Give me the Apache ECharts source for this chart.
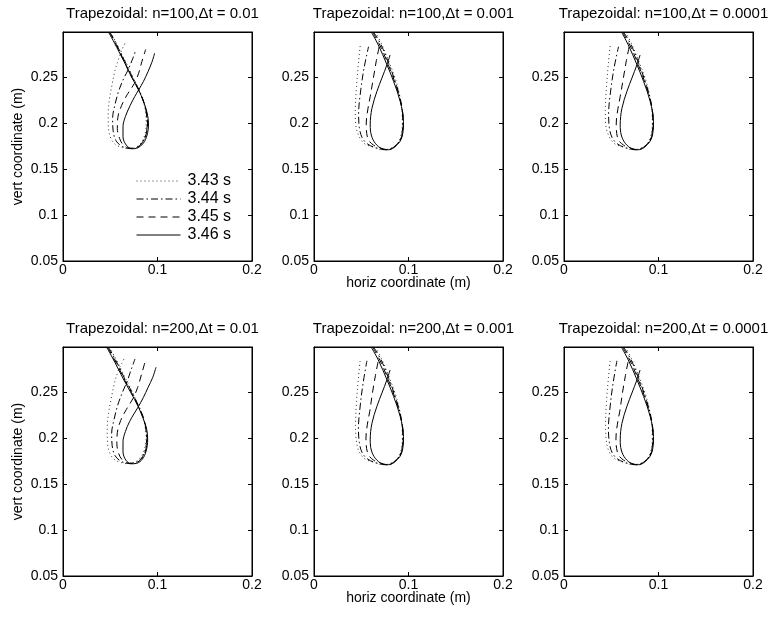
<!DOCTYPE html>
<html><head><meta charset="utf-8">
<script src="https://cdn.jsdelivr.net/npm/echarts@6/dist/echarts.min.js"></script>
<style>html,body{margin:0;padding:0;background:#fff}#c{width:769px;height:620px}</style>
</head><body><div id="c"></div>
<script>
// ---- tick labels / axis ranges ----
const xTicks = [0, 0.1, 0.2];
const yTicks = [0.05, 0.1, 0.15, 0.2, 0.25];
const yMax = 0.299;

// ---- curve names (legend) ----
const curveNames = ['3.43 s', '3.44 s', '3.45 s', '3.46 s'];

// ---- panel titles ----
const titles = [
  'Trapezoidal: n=100,\u0394t = 0.01', 'Trapezoidal: n=100,\u0394t = 0.001', 'Trapezoidal: n=100,\u0394t = 0.0001',
  'Trapezoidal: n=200,\u0394t = 0.01', 'Trapezoidal: n=200,\u0394t = 0.001', 'Trapezoidal: n=200,\u0394t = 0.0001'
];

// ---- data: [horiz, vert] (m) ----
// Panel 1: n=100, dt=0.01
const p1_343 = [[0.050,0.299],[0.056,0.288],[0.061,0.2775],[0.067,0.265],[0.073,0.252],[0.080,0.237],[0.0845,0.225],[0.0875,0.212],[0.088,0.200],[0.087,0.189],[0.083,0.179],[0.077,0.1735],[0.070,0.172],[0.062,0.1735],[0.055,0.177],[0.050,0.185],[0.048,0.197],[0.0478,0.210],[0.049,0.225],[0.052,0.242],[0.055,0.257],[0.059,0.270],[0.062,0.279],[0.0656,0.2866]];
const p1_344 = [[0.0495,0.299],[0.0555,0.288],[0.0605,0.277],[0.0665,0.265],[0.0725,0.252],[0.080,0.237],[0.0848,0.225],[0.088,0.212],[0.089,0.200],[0.088,0.188],[0.084,0.179],[0.078,0.1735],[0.070,0.1725],[0.062,0.175],[0.056,0.181],[0.053,0.192],[0.0525,0.205],[0.055,0.220],[0.059,0.235],[0.064,0.248],[0.069,0.258],[0.073,0.268],[0.077,0.279]];
const p1_345 = [[0.049,0.299],[0.055,0.288],[0.0605,0.2765],[0.066,0.2645],[0.072,0.2515],[0.080,0.236],[0.085,0.224],[0.0885,0.211],[0.0895,0.199],[0.088,0.188],[0.084,0.1785],[0.078,0.1735],[0.071,0.1725],[0.064,0.176],[0.060,0.183],[0.0575,0.194],[0.058,0.206],[0.062,0.219],[0.068,0.231],[0.0755,0.243],[0.080,0.254],[0.0835,0.267],[0.0875,0.280]];
const p1_346 = [[0.048,0.299],[0.054,0.288],[0.060,0.276],[0.066,0.264],[0.072,0.251],[0.080,0.236],[0.085,0.224],[0.089,0.211],[0.0905,0.199],[0.089,0.187],[0.085,0.178],[0.079,0.173],[0.073,0.172],[0.067,0.176],[0.0635,0.185],[0.0635,0.196],[0.066,0.207],[0.071,0.219],[0.076,0.229],[0.080,0.236],[0.085,0.245],[0.090,0.256],[0.094,0.266],[0.097,0.276]];
// Panel 2: n=100, dt=0.001
const p2_343 = [[0.065,0.299],[0.072,0.285],[0.080,0.265],[0.087,0.245],[0.092,0.222],[0.0935,0.200],[0.091,0.183],[0.084,0.174],[0.073,0.171],[0.062,0.174],[0.053,0.178],[0.047,0.187],[0.044,0.200],[0.0437,0.214],[0.045,0.240],[0.047,0.265],[0.049,0.285]];
const p2_344 = [[0.063,0.299],[0.071,0.285],[0.079,0.265],[0.086,0.245],[0.092,0.223],[0.094,0.200],[0.092,0.184],[0.086,0.175],[0.076,0.171],[0.066,0.173],[0.057,0.177],[0.051,0.184],[0.048,0.195],[0.0472,0.210],[0.0495,0.236],[0.053,0.260],[0.0577,0.283]];
const p2_345 = [[0.062,0.299],[0.070,0.284],[0.078,0.265],[0.085,0.246],[0.0915,0.224],[0.0945,0.202],[0.093,0.186],[0.088,0.177],[0.078,0.171],[0.070,0.173],[0.063,0.176],[0.057,0.183],[0.0553,0.200],[0.057,0.215],[0.0595,0.229],[0.063,0.250],[0.066,0.268],[0.069,0.283]];
const p2_346 = [[0.0606,0.299],[0.068,0.285],[0.0772,0.2634],[0.0842,0.2453],[0.0912,0.2236],[0.0947,0.2018],[0.0937,0.1874],[0.0895,0.178],[0.0789,0.171],[0.0719,0.172],[0.0648,0.178],[0.0606,0.187],[0.0595,0.198],[0.0613,0.216],[0.0666,0.2345],[0.0719,0.249],[0.0772,0.2634],[0.0805,0.274]];
// Panel 3: n=100, dt=0.0001
const p3_343 = [[0.065,0.299],[0.072,0.285],[0.080,0.265],[0.087,0.245],[0.092,0.222],[0.0935,0.200],[0.091,0.183],[0.084,0.174],[0.073,0.171],[0.062,0.174],[0.053,0.178],[0.047,0.187],[0.044,0.200],[0.0437,0.214],[0.045,0.240],[0.047,0.265],[0.049,0.285]];
const p3_344 = [[0.063,0.299],[0.071,0.285],[0.079,0.265],[0.086,0.245],[0.092,0.223],[0.094,0.200],[0.092,0.184],[0.086,0.175],[0.076,0.171],[0.066,0.173],[0.057,0.177],[0.051,0.184],[0.048,0.195],[0.0472,0.210],[0.0495,0.236],[0.053,0.260],[0.0577,0.283]];
const p3_345 = [[0.062,0.299],[0.070,0.284],[0.078,0.265],[0.085,0.246],[0.0915,0.224],[0.0945,0.202],[0.093,0.186],[0.088,0.177],[0.078,0.171],[0.070,0.173],[0.063,0.176],[0.057,0.183],[0.0553,0.200],[0.057,0.215],[0.0595,0.229],[0.063,0.250],[0.066,0.268],[0.069,0.283]];
const p3_346 = [[0.0608,0.299],[0.068,0.285],[0.0772,0.2634],[0.0842,0.2453],[0.0912,0.2236],[0.0947,0.2018],[0.0937,0.1874],[0.0895,0.178],[0.0789,0.171],[0.0719,0.172],[0.0648,0.178],[0.0606,0.187],[0.0595,0.198],[0.0613,0.216],[0.0666,0.2345],[0.0719,0.249],[0.0772,0.2634],[0.0805,0.274]];
// Panel 4: n=200, dt=0.01
const p4_343 = [[0.049,0.299],[0.055,0.288],[0.060,0.278],[0.066,0.265],[0.0725,0.252],[0.079,0.237],[0.084,0.225],[0.087,0.212],[0.088,0.200],[0.0865,0.189],[0.0825,0.1795],[0.0765,0.174],[0.069,0.172],[0.061,0.1735],[0.054,0.177],[0.049,0.185],[0.047,0.197],[0.0468,0.210],[0.048,0.226],[0.051,0.243],[0.054,0.258],[0.058,0.272],[0.062,0.281],[0.0656,0.2878]];
const p4_344 = [[0.048,0.299],[0.054,0.288],[0.0595,0.277],[0.066,0.263],[0.073,0.250],[0.0795,0.236],[0.0845,0.224],[0.0875,0.211],[0.0885,0.199],[0.087,0.187],[0.083,0.178],[0.077,0.1735],[0.069,0.1725],[0.061,0.175],[0.055,0.181],[0.052,0.192],[0.0515,0.205],[0.054,0.220],[0.058,0.236],[0.063,0.250],[0.068,0.262],[0.072,0.274],[0.0762,0.286]];
const p4_345 = [[0.047,0.299],[0.053,0.288],[0.059,0.2765],[0.0655,0.2625],[0.0725,0.2495],[0.0795,0.235],[0.0845,0.223],[0.088,0.210],[0.089,0.198],[0.0875,0.187],[0.0835,0.178],[0.077,0.173],[0.070,0.1725],[0.063,0.176],[0.059,0.183],[0.057,0.194],[0.0575,0.206],[0.061,0.219],[0.067,0.231],[0.074,0.243],[0.079,0.255],[0.083,0.269],[0.0868,0.2826]];
const p4_346 = [[0.046,0.299],[0.052,0.288],[0.058,0.276],[0.065,0.262],[0.072,0.249],[0.0797,0.234],[0.0845,0.222],[0.0885,0.210],[0.0896,0.198],[0.088,0.186],[0.084,0.177],[0.078,0.1725],[0.072,0.172],[0.0665,0.176],[0.0635,0.185],[0.0635,0.196],[0.066,0.207],[0.0705,0.218],[0.0755,0.227],[0.0797,0.234],[0.085,0.244],[0.090,0.255],[0.095,0.266],[0.0984,0.277]];
// Panel 5: n=200, dt=0.001
const p5_343 = [[0.065,0.299],[0.072,0.285],[0.080,0.265],[0.087,0.245],[0.092,0.222],[0.0935,0.200],[0.091,0.183],[0.084,0.174],[0.073,0.171],[0.062,0.174],[0.053,0.178],[0.047,0.187],[0.0445,0.200],[0.044,0.214],[0.045,0.240],[0.047,0.265],[0.049,0.286]];
const p5_344 = [[0.063,0.299],[0.071,0.285],[0.079,0.265],[0.086,0.245],[0.092,0.223],[0.094,0.200],[0.092,0.184],[0.086,0.175],[0.076,0.171],[0.066,0.173],[0.057,0.177],[0.051,0.184],[0.048,0.195],[0.047,0.210],[0.049,0.236],[0.052,0.260],[0.056,0.284]];
const p5_345 = [[0.062,0.299],[0.070,0.284],[0.078,0.265],[0.085,0.246],[0.0915,0.224],[0.0945,0.202],[0.093,0.186],[0.088,0.177],[0.078,0.171],[0.070,0.173],[0.063,0.176],[0.057,0.183],[0.055,0.200],[0.0565,0.215],[0.059,0.229],[0.062,0.250],[0.065,0.268],[0.068,0.284]];
const p5_346 = [[0.0604,0.299],[0.068,0.285],[0.0772,0.2634],[0.0842,0.2453],[0.0912,0.2236],[0.0947,0.2018],[0.0937,0.1874],[0.0895,0.178],[0.0789,0.171],[0.0719,0.172],[0.0648,0.178],[0.0606,0.187],[0.0595,0.198],[0.0613,0.216],[0.0666,0.2345],[0.0719,0.249],[0.0772,0.2634],[0.0805,0.274]];
// Panel 6: n=200, dt=0.0001
const p6_343 = [[0.065,0.299],[0.072,0.285],[0.080,0.265],[0.087,0.245],[0.092,0.222],[0.0935,0.200],[0.091,0.183],[0.084,0.174],[0.073,0.171],[0.062,0.174],[0.053,0.178],[0.047,0.187],[0.0445,0.200],[0.044,0.214],[0.045,0.240],[0.047,0.265],[0.049,0.286]];
const p6_344 = [[0.063,0.299],[0.071,0.285],[0.079,0.265],[0.086,0.245],[0.092,0.223],[0.094,0.200],[0.092,0.184],[0.086,0.175],[0.076,0.171],[0.066,0.173],[0.057,0.177],[0.051,0.184],[0.048,0.195],[0.047,0.210],[0.049,0.236],[0.052,0.260],[0.056,0.284]];
const p6_345 = [[0.062,0.299],[0.070,0.284],[0.078,0.265],[0.085,0.246],[0.0915,0.224],[0.0945,0.202],[0.093,0.186],[0.088,0.177],[0.078,0.171],[0.070,0.173],[0.063,0.176],[0.057,0.183],[0.055,0.200],[0.0565,0.215],[0.059,0.229],[0.062,0.250],[0.065,0.268],[0.068,0.284]];
const p6_346 = [[0.0606,0.299],[0.068,0.285],[0.0772,0.2634],[0.0842,0.2453],[0.0912,0.2236],[0.0947,0.2018],[0.0937,0.1874],[0.0895,0.178],[0.0789,0.171],[0.0719,0.172],[0.0648,0.178],[0.0606,0.187],[0.0595,0.198],[0.0613,0.216],[0.0666,0.2345],[0.0719,0.249],[0.0772,0.2634],[0.0805,0.274]];

const panelCurves = [
  [p1_343, p1_344, p1_345, p1_346],
  [p2_343, p2_344, p2_345, p2_346],
  [p3_343, p3_344, p3_345, p3_346],
  [p4_343, p4_344, p4_345, p4_346],
  [p5_343, p5_344, p5_345, p5_346],
  [p6_343, p6_344, p6_345, p6_346]
];

// ---- layout / style ----
const FONT = "'Liberation Sans', Arial, Helvetica, sans-serif";
const colLeft = [63, 314, 564];
const rowTop = [32, 347];
const gw = 189, gh = 229;
const dashStyles = [[1, 3], [7, 3, 1.5, 3], [7, 5], 'solid'];
const lineColors = ['#333', '#000', '#000', '#000'];

const fmt = v => String(Number(v.toFixed(3)));

const grids = [], xAxes = [], yAxes = [], series = [], titleArr = [];
for (let i = 0; i < 6; i++) {
  const r = Math.floor(i / 3), c = i % 3;
  grids.push({left: colLeft[c], top: rowTop[r], width: gw, height: gh, show: true,
    borderColor: '#000', borderWidth: 1, backgroundColor: '#fff', containLabel: false});
  titleArr.push({text: titles[i], left: colLeft[c] + gw / 2, top: rowTop[r] - 31, textAlign: 'center',
    textStyle: {fontFamily: FONT, fontSize: 15, fontWeight: 'normal', color: '#000'}});
  const xBase = {gridIndex: i, type: 'value', min: xTicks[0], max: xTicks[xTicks.length - 1],
    interval: xTicks[1] - xTicks[0], splitLine: {show: false},
    axisLine: {show: true, onZero: false, lineStyle: {color: '#000', width: 1}},
    axisTick: {show: true, inside: true, length: 4, lineStyle: {color: '#000'}}};
  xAxes.push(Object.assign({}, xBase, {position: 'bottom',
    axisLabel: {show: true, color: '#000', fontFamily: FONT, fontSize: 14, margin: 2, formatter: fmt},
    name: c === 1 ? 'horiz coordinate (m)' : '', nameLocation: 'middle', nameGap: 15,
    nameMoveOverlap: false,
    nameTextStyle: {fontFamily: FONT, fontSize: 14, color: '#000', verticalAlign: 'top'}}));
  xAxes.push(Object.assign({}, xBase, {position: 'top', axisLabel: {show: false}}));
  const yBase = {gridIndex: i, type: 'value', min: yTicks[0], max: yMax,
    interval: yTicks[1] - yTicks[0], splitLine: {show: false},
    axisLine: {show: true, onZero: false, lineStyle: {color: '#000', width: 1}},
    axisTick: {show: true, inside: true, length: 4, lineStyle: {color: '#000'}}};
  yAxes.push(Object.assign({}, yBase, {position: 'left',
    axisLabel: {show: true, color: '#000', fontFamily: FONT, fontSize: 14, margin: 5, formatter: fmt,
      showMaxLabel: false},
    name: c === 0 ? 'vert coordinate (m)' : '', nameLocation: 'middle', nameGap: 38, nameRotate: 90,
    nameMoveOverlap: false,
    nameTextStyle: {fontFamily: FONT, fontSize: 14, color: '#000'}}));
  yAxes.push(Object.assign({}, yBase, {position: 'right', axisLabel: {show: false}}));
  panelCurves[i].forEach((data, k) => {
    series.push({type: 'line', name: curveNames[k], xAxisIndex: 2 * i, yAxisIndex: 2 * i,
      data: data, showSymbol: false, symbol: 'none', smooth: 0.35, clip: true,
      lineStyle: {color: lineColors[k], width: 1, type: dashStyles[k]},
      itemStyle: {color: lineColors[k]}, emphasis: {disabled: true}, animation: false, z: 3});
  });
}

const chart = echarts.init(document.getElementById('c'), null, {renderer: 'canvas'});
chart.setOption({
  backgroundColor: '#fff',
  animation: false,
  title: titleArr,
  legend: {show: true, data: curveNames, orient: 'vertical', left: 131, top: 168,
    itemWidth: 44, itemHeight: 12, itemGap: 2,
    itemStyle: {opacity: 0},
    lineStyle: {width: 1},
    textStyle: {fontFamily: FONT, fontSize: 16, color: '#000', padding: [0, 0, 0, 2]},
    backgroundColor: 'transparent', selectedMode: false},
  grid: grids, xAxis: xAxes, yAxis: yAxes, series: series
});
</script></body></html>
